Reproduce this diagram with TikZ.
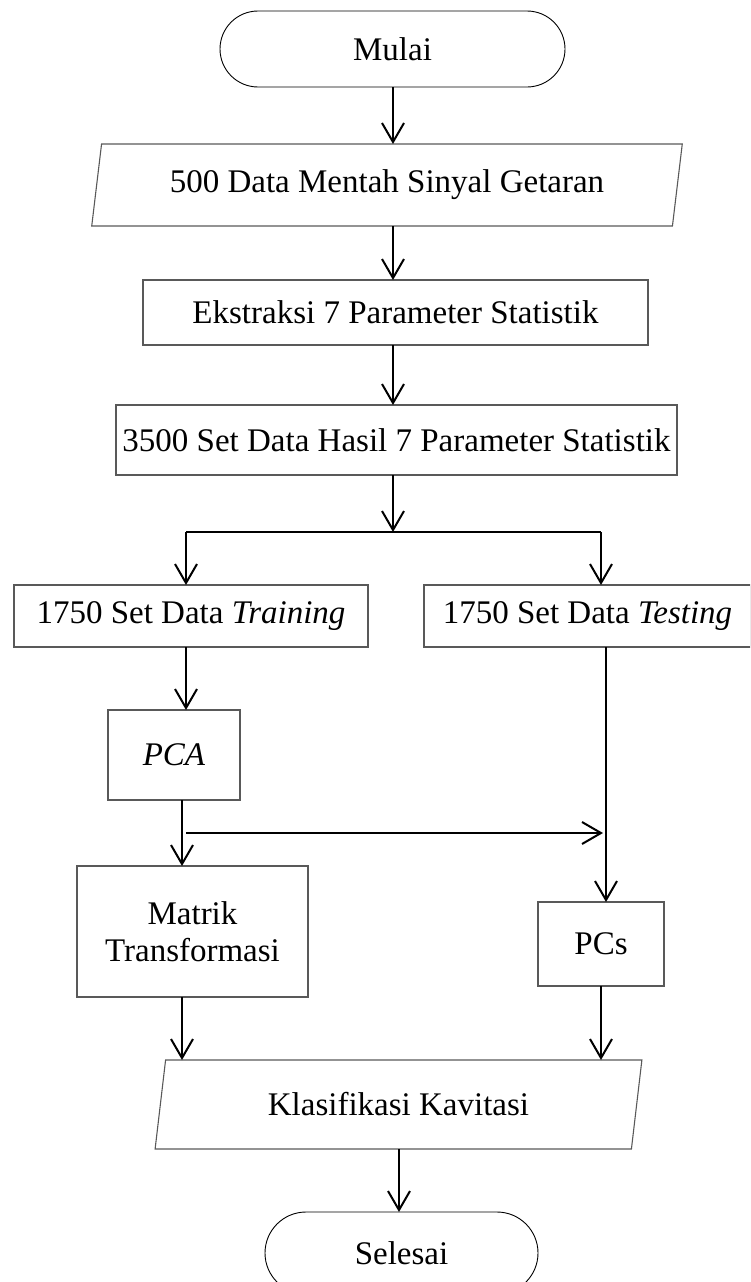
\documentclass[tikz,border=0pt]{standalone}
\usepackage{fontspec}
\setmainfont{Liberation Serif}
\usetikzlibrary{arrows.meta,shapes.geometric,calc}

\begin{document}
\begin{tikzpicture}[x=1pt,y=-1pt,
  every node/.style={font=\fontsize{33}{37}\selectfont, inner sep=0pt, outer sep=0pt},
  box/.style={draw=black!65, line width=1.1pt, rectangle, align=center},
  term/.style={draw=black, line width=0.9pt, rectangle, rounded corners=#1},
  io/.style={draw=black!65, line width=1.1pt, trapezium,
    trapezium left angle=76, trapezium right angle=104, trapezium stretches=true},
  flow/.style={line width=2pt, -{Straight Barb[length=19pt,width=22pt,line width=2pt]}},
  link/.style={line width=2pt}]

\path[use as bounding box, clip] (0,0) rectangle (750,1282);

% stages of the process
\node[term=38pt, minimum width=345pt, minimum height=76pt] (start) at (392.5,49) {Mulai};
\node[io, minimum width=594pt, minimum height=82pt] (raw) at (387,185) {500 Data Mentah Sinyal Getaran};
\node[box, minimum width=505pt, minimum height=65pt] (ext) at (395.5,312.5) {Ekstraksi 7 Parameter Statistik};
\node[box, minimum width=561pt, minimum height=70pt] (set) at (396.5,440) {3500 Set Data Hasil 7 Parameter Statistik};
\node[box, minimum width=354pt, minimum height=62pt] (train) at (191,616) {1750 Set Data \textit{Training}};
\node[box, minimum width=327pt, minimum height=62pt] (test) at (587.5,616) {1750 Set Data \textit{Testing}};
\node[box, minimum width=132pt, minimum height=90pt] (pca) at (174,755) {\textit{PCA}};
\node[box, minimum width=231pt, minimum height=131pt] (mat) at (192.5,931.5) {Matrik\\Transformasi};
\node[box, minimum width=126pt, minimum height=84pt] (pcs) at (601,944) {PCs};
\node[io, minimum width=487pt, minimum height=89pt] (cls) at (398.5,1104.5) {Klasifikasi Kavitasi};
\node[term=41pt, minimum width=273pt, minimum height=82pt] (end) at (401.5,1253) {Selesai};

% branching points and columns
\coordinate (cM) at (393,0);
\coordinate (cL) at (186,532);
\coordinate (cR) at (601,532);
\coordinate (cT) at (606,0);
\coordinate (cP) at (182,0);
\coordinate (tap) at (186,833);
\coordinate (cE) at (399,0);

% connectors
\draw[flow] (start.south -| cM) -- (raw.north -| cM);
\draw[flow] (raw.south -| cM) -- (ext.north -| cM);
\draw[flow] (ext.south -| cM) -- (set.north -| cM);
\draw[flow] (set.south -| cM) -- (cL -| cM);
\draw[link] (cL) -- (cR);
\draw[flow] (cL) -- (train.north -| cL);
\draw[flow] (cR) -- (test.north -| cR);
\draw[flow] (train.south -| cL) -- (pca.north -| cL);
\draw[flow] (pca.south -| cP) -- (mat.north -| cP);
\draw[flow] (tap) -- ($(tap -| cT)+(-3,0)$);
\draw[flow] (test.south -| cT) -- (pcs.north -| cT);
\draw[flow] (mat.south -| cP) -- (cls.north -| cP);
\draw[flow] (pcs.south) -- (cls.north -| pcs.south);
\draw[flow] (cls.south -| cE) -- (end.north -| cE);
\end{tikzpicture}
\end{document}
